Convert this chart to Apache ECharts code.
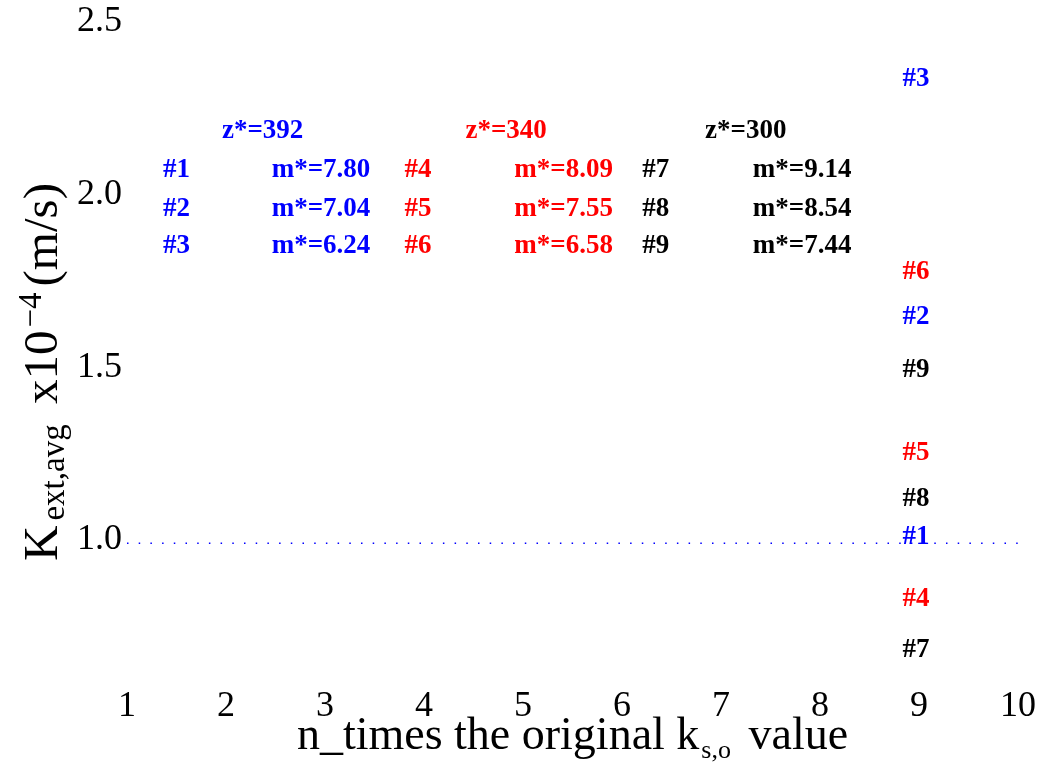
<!DOCTYPE html>
<html lang="en">
<head>
<meta charset="UTF-8">
<title>K_ext,avg vs n_times k_s,o</title>
<script src="https://cdn.jsdelivr.net/npm/echarts@6/dist/echarts.min.js"></script>
</head>
<body style="margin:0">
<div id="main" style="width:1040px;height:770px"></div>
<script>

    var xTicks = [1, 2, 3, 4, 5, 6, 7, 8, 9, 10];
    var yTicks = [1.0, 1.5, 2.0, 2.5];

    // one colour per group of cases
    var groupColors = ['#0000ff', '#ff0000', '#000000'];
    var zLabels = ['z*=392', 'z*=340', 'z*=300'];
    var zX = [2.37, 4.83, 7.25];
    var zY = 2.19;
    var caseNames = [['#1', '#2', '#3'], ['#4', '#5', '#6'], ['#7', '#8', '#9']];
    var caseX = [1.5, 3.94, 6.34];
    var mLabels = [['m*=7.80', 'm*=7.04', 'm*=6.24'], ['m*=8.09', 'm*=7.55', 'm*=6.58'], ['m*=9.14', 'm*=8.54', 'm*=7.44']];
    var mX = [2.96, 5.41, 7.82];
    var rowY = [2.078, 1.965, 1.858];
    // K_ext,avg values of each case, drawn at n = 9
    var kValues = [[1.014, 1.652, 2.341], [0.835, 1.258, 1.783], [0.687, 1.125, 1.499]];
    var kX = 8.97;
    var refLine = 0.99;

    var serif = 'Liberation Serif, Times New Roman, serif';

    var myChart = echarts.init(document.getElementById('main'));

    var series = [{
        type: 'line',
        data: [[xTicks[0], refLine], [xTicks[xTicks.length - 1], refLine]],
        symbol: 'none',
        silent: true,
        lineStyle: {color: '#0000ff', width: 1.5, type: [1.5, 10.2]}
    }];

    for (var g = 0; g < groupColors.length; g++) {
        var pts = [{name: zLabels[g], value: [zX[g], zY]}];
        for (var r = 0; r < 3; r++) {
            pts.push({name: caseNames[g][r], value: [caseX[g], rowY[r]]});
            pts.push({name: mLabels[g][r], value: [mX[g], rowY[r]]});
            pts.push({name: caseNames[g][r], value: [kX, kValues[g][r]]});
        }
        series.push({
            type: 'scatter',
            data: pts,
            symbolSize: 0,
            silent: true,
            itemStyle: {color: groupColors[g], opacity: 1},
            label: {
                show: true,
                position: 'inside',
                offset: [0, 2],
                formatter: '{b}',
                color: groupColors[g],
                opacity: 1,
                fontFamily: serif,
                fontWeight: 'bold',
                fontSize: 27
            }
        });
    }

    var option = {
        animation: false,
        backgroundColor: '#fff',
        grid: {left: 127, right: 22, top: 22, bottom: 92, outerBoundsMode: 'none'},
        xAxis: {
            type: 'value',
            min: 1, max: 10, interval: 1,
            axisLine: {show: false},
            axisTick: {show: false},
            splitLine: {show: false},
            axisLabel: {color: '#000', fontFamily: serif, fontSize: 36, margin: 11},
            name: '{t|n_times the original k}{sub|s,o}{t| value}',
            nameLocation: 'middle',
            nameGap: 32,
            nameMoveOverlap: false,
            nameTextStyle: {
                rich: {
                    t: {fontFamily: serif, fontSize: 46, color: '#000', lineHeight: 54, verticalAlign: 'middle'},
                    sub: {fontFamily: serif, fontSize: 26, color: '#000', lineHeight: 26, verticalAlign: 'bottom', padding: [0, 6, 0, 2]}
                }
            }
        },
        yAxis: {
            type: 'value',
            min: 0.6, max: 2.5,
            axisLine: {show: false},
            axisTick: {show: false},
            splitLine: {show: false},
            axisLabel: {
                color: '#000', fontFamily: serif, fontSize: 36, margin: 5,
                padding: [8, 0, 0, 0],
                customValues: yTicks,
                formatter: function (v) { return v.toFixed(1); }
            },
            name: '{t|K}{sub|ext,avg}{t| x10}{sup|−4}{t|(m/s)}',
            nameLocation: 'middle',
            nameRotate: 90,
            nameGap: 55,
            nameMoveOverlap: false,
            nameTextStyle: {
                padding: [0, 44, 0, 0],
                rich: {
                    t: {fontFamily: serif, fontSize: 49, color: '#000', lineHeight: 56, verticalAlign: 'middle'},
                    sub: {fontFamily: serif, fontSize: 33, color: '#000', lineHeight: 30, verticalAlign: 'bottom', padding: [0, 8, 0, 5]},
                    sup: {fontFamily: serif, fontSize: 33, color: '#000', lineHeight: 30, verticalAlign: 'top', padding: [0, 6, 0, 3]}
                }
            }
        },
        series: series
    };

    myChart.setOption(option);

</script>
</body>
</html>
